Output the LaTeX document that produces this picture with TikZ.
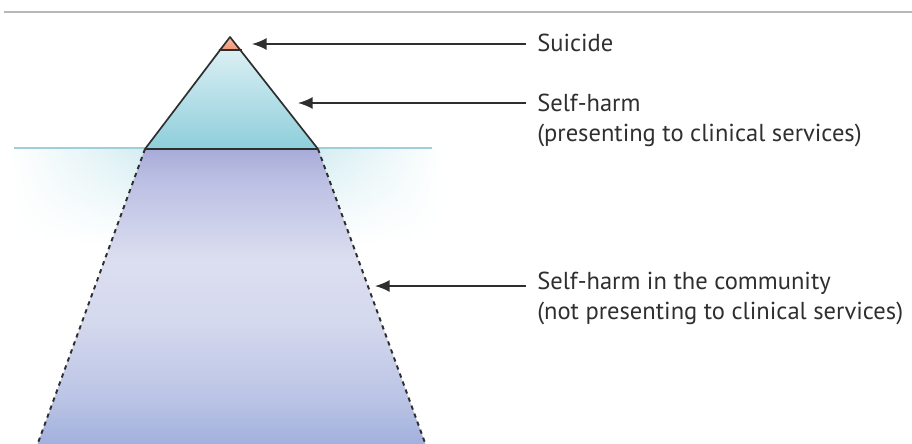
\documentclass[tikz,border=0pt]{standalone}
\usepackage{fontspec}
\setmainfont{PT Sans}
\usetikzlibrary{arrows.meta,fadings}
\definecolor{outline}{HTML}{2E2E2E}
\definecolor{rulegray}{HTML}{B8B8B8}
\definecolor{glow}{HTML}{D2ECF1}
\definecolor{waterline}{HTML}{9FCFDB}
\definecolor{deepA}{HTML}{A7ABD9}
\definecolor{deepB}{HTML}{BBBFE3}
\definecolor{deepC}{HTML}{DCDEF0}
\definecolor{deepD}{HTML}{D5D9EE}
\definecolor{deepE}{HTML}{BAC4E5}
\definecolor{deepF}{HTML}{9EAEDC}
\definecolor{tiptop}{HTML}{DAEFF4}
\definecolor{tipbot}{HTML}{8ECEDB}
\definecolor{suitop}{HTML}{F8C0A8}
\definecolor{suibot}{HTML}{EE9275}
\definecolor{textgray}{HTML}{2F2F2F}
\pgfdeclareverticalshading{deepshade}{100bp}{color(0bp)=(deepF); color(25bp)=(deepF);
  color(33.5bp)=(deepE); color(46.5bp)=(deepD); color(56.5bp)=(deepC);
  color(70bp)=(deepB); color(75bp)=(deepA); color(100bp)=(deepA)}
\tikzfading[name=fromleft, left color=transparent!100, right color=transparent!0]
\tikzfading[name=fromright, left color=transparent!0, right color=transparent!100]
\begin{document}
\begin{tikzpicture}[x=0.75pt,y=-0.75pt,
  edge/.style={draw=outline, line width=1.25pt, line join=round},
  dashedge/.style={draw=outline, line width=1.45pt, dash pattern=on 3.2pt off 3.2pt},
  pointer/.style={draw=outline, line width=1.2pt, -{Latex[length=11pt,width=9pt]}},
  label/.style={anchor=base west, inner sep=0pt, align=left, text=textgray,
    font=\fontsize{18.4}{22}\selectfont}]
\useasboundingbox (0,0) rectangle (912,443);
% top rule
\draw[rulegray, line width=1.2pt] (4,12) -- (912,12);
% water glow
\shade[top color=glow, bottom color=white, path fading=fromleft] (10,148) rectangle (150,245);
\shade[top color=glow, bottom color=white, path fading=fromright] (313,148) rectangle (442,245);
\draw[waterline, line width=0.9pt] (14,148) -- (145,148);
\draw[waterline, line width=0.9pt] (318,148) -- (432,148);
% submerged part
\shade[shading=deepshade]
  (145,149) -- (318,149) -- (427.6,450) -- (35.4,450) -- cycle;
\path[dashedge] (145,149) -- (35.4,450);
\path[dashedge] (318,149) -- (427.6,450);
% visible part (self-harm)
\shade[top color=tiptop, bottom color=tipbot] (218.5,50) -- (241.6,50) -- (318,149) -- (145,149) -- cycle;
% suicide tip
\shade[top color=suitop, bottom color=suibot] (230,37) -- (241.6,50) -- (218.5,50) -- cycle;
\path[edge] (218.5,50) -- (241.6,50);
\path[edge] (145,149) -- (230,37) -- (318,149) -- cycle;
% labels
\node[label] (sui) at (537,51) {Suicide};
\node[label] (sh) at (537,141) {Self-harm\\(presenting to clinical services)};
\node[label] (comm) at (537,319) {Self-harm in the community\\(not presenting to clinical services)};
\coordinate (suitip) at (252,44);
\coordinate (shtip) at (298,103);
\coordinate (commtip) at (375,286);
\coordinate (suistart) at (526,44);
\coordinate (shstart) at (526,103);
\coordinate (commstart) at (526,286);
\draw[pointer] (suistart) -- (suitip);
\draw[pointer] (shstart) -- (shtip);
\draw[pointer] (commstart) -- (commtip);
\end{tikzpicture}
\end{document}
